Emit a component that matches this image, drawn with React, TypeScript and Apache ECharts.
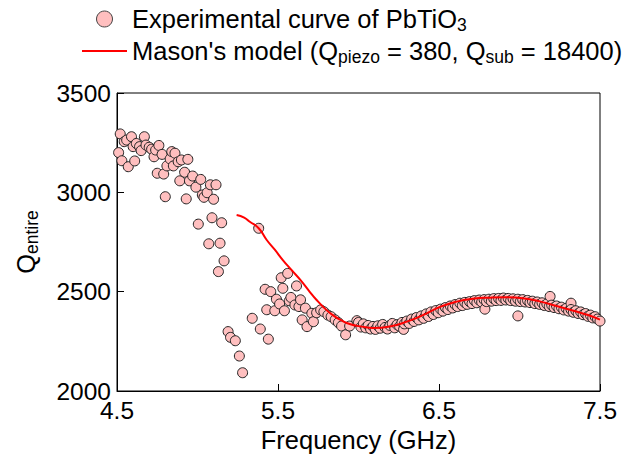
import React, { useEffect, useRef } from "react";
import * as echarts from "echarts";

const expFreq: number[] = [
  4.51, 4.52, 4.53, 4.545, 4.56, 4.57, 4.59, 4.6, 4.61, 4.62, 4.64, 4.65, 4.67, 4.68, 4.7, 4.715,
  4.73, 4.74, 4.75, 4.76, 4.78, 4.79, 4.8, 4.81, 4.83, 4.84, 4.85, 4.86, 4.88, 4.89, 4.9, 4.92,
  4.93, 4.94, 4.95, 4.97, 4.99, 5.005, 5.02, 5.03, 5.04, 5.06, 5.07, 5.08, 5.09, 5.1, 5.115, 5.13,
  5.14, 5.15, 5.165, 5.19, 5.205, 5.235, 5.26, 5.28, 5.34, 5.38, 5.39, 5.42, 5.43, 5.44, 5.455,
  5.48, 5.49, 5.51, 5.52, 5.53, 5.54, 5.56, 5.57, 5.58, 5.605, 5.615, 5.63, 5.64, 5.65, 5.67,
  5.68, 5.71, 5.72, 5.74, 5.765, 5.785, 5.81, 5.83, 5.855, 5.875, 5.895, 5.92, 5.945, 5.99,
  6.0, 6.015, 6.03, 6.045, 6.06, 6.075, 6.09, 6.105, 6.12, 6.135, 6.15, 6.165, 6.18, 6.195,
  6.21, 6.225, 6.24, 6.255, 6.27, 6.28, 6.285, 6.3, 6.315, 6.33, 6.345, 6.36, 6.375, 6.39,
  6.405, 6.42, 6.435, 6.45, 6.465, 6.48, 6.495, 6.51, 6.525, 6.54, 6.555, 6.57, 6.585, 6.6,
  6.615, 6.63, 6.645, 6.66, 6.675, 6.69, 6.705, 6.72, 6.735, 6.75, 6.765, 6.78, 6.785, 6.795,
  6.81, 6.825, 6.84, 6.855, 6.87, 6.885, 6.9, 6.915, 6.93, 6.945, 6.96, 6.975, 6.99, 6.99,
  7.005, 7.02, 7.035, 7.05, 7.065, 7.08, 7.095, 7.11, 7.125, 7.14, 7.155, 7.17, 7.185, 7.19,
  7.2, 7.215, 7.23, 7.245, 7.26, 7.275, 7.29, 7.305, 7.32, 7.32, 7.335, 7.35, 7.365, 7.38,
  7.395, 7.41, 7.425, 7.44, 7.455, 7.47, 7.485, 7.5,
];

const expQ: number[] = [
  3200, 3294, 3159, 3255, 3263, 3129, 3280, 3230, 3158, 3246, 3230, 3210, 3280, 3238, 3227, 3217,
  3179, 3213, 3096, 3236, 3191, 3092, 2978, 3133, 3168, 3205, 3133, 3197, 3154, 3058, 3163, 3101,
  2967, 3166, 3058, 3082, 3026, 2840, 3065, 2987, 2975, 2998, 2741, 3038, 2872, 2965, 3038, 2601,
  2744, 2847, 2655, 2299, 2270, 2253, 2176, 2092, 2366, 2819, 2312, 2512, 2409, 2261, 2500,
  2404, 2462, 2438, 2570, 2517, 2404, 2592, 2454, 2471, 2433, 2529, 2425, 2459, 2358, 2417,
  2324, 2391, 2349, 2394, 2408, 2399, 2382, 2374, 2358, 2344, 2327, 2283, 2327, 2354,
  2345, 2322, 2338, 2318, 2330, 2312, 2325, 2310, 2328, 2316, 2335, 2320, 2312, 2330,
  2340, 2318, 2334, 2326, 2345, 2310, 2338, 2352, 2340, 2362, 2350, 2370, 2358, 2378,
  2366, 2388, 2375, 2398, 2385, 2405, 2394, 2412, 2402, 2420, 2410, 2428, 2418, 2435,
  2425, 2442, 2430, 2446, 2436, 2450, 2440, 2455, 2444, 2458, 2448, 2460, 2412, 2450,
  2462, 2452, 2465, 2455, 2466, 2456, 2468, 2458, 2466, 2455, 2464, 2452, 2378, 2462,
  2450, 2460, 2448, 2456, 2445, 2452, 2440, 2448, 2436, 2444, 2430, 2438, 2425, 2476,
  2432, 2420, 2428, 2414, 2422, 2408, 2416, 2402, 2442, 2410, 2396, 2404, 2390, 2398,
  2384, 2390, 2376, 2382, 2368, 2374, 2362, 2352,
];

const modelFreq: number[] = [
  5.243, 5.29, 5.325, 5.38, 5.43, 5.48, 5.53, 5.585, 5.64, 5.69, 5.74, 5.79, 5.84, 5.895, 5.95,
  6.02, 6.09, 6.195, 6.3, 6.4, 6.51, 6.61, 6.71, 6.82, 6.92, 7.02, 7.13, 7.23, 7.33, 7.43, 7.5,
];
const modelQ: number[] = [
  2886, 2873, 2852, 2819, 2760, 2711, 2659, 2608, 2558, 2507, 2458, 2416, 2382, 2355, 2336,
  2324, 2317, 2325, 2349, 2382, 2425, 2450, 2464, 2470, 2472, 2467, 2450, 2428, 2405, 2381, 2359,
];

const yTicks = { min: 2000, max: 3500, interval: 500 };
const xTicks = { min: 4.5, max: 7.5, interval: 1 };

const expName = "Experimental curve of PbTiO3";
const modelName = "Mason's model (Qpiezo = 380, Qsub = 18400)";

const FONT = "Liberation Sans, Arial, sans-serif";
const FS = 25.5;
const SUB = 17.5;
const LABEL_FS = 24.5;

export default function App() {
  const ref = useRef<HTMLDivElement>(null);
  useEffect(() => {
    if (!ref.current) return;
    const chart = echarts.init(ref.current, null, { renderer: "svg" });
    const richText = {
      n: { fontSize: FS, fontFamily: FONT, color: "#000", lineHeight: 30 },
      s: { fontSize: SUB, fontFamily: FONT, color: "#000", lineHeight: 11, verticalAlign: "bottom" },
    };
    chart.setOption({
      animation: false,
      backgroundColor: "#fff",
      textStyle: { fontFamily: FONT },
      legend: {
        orient: "vertical",
        left: 77,
        top: 1,
        itemWidth: 45,
        itemHeight: 16,
        itemGap: 4,
        data: [
          { name: expName, icon: "circle", itemStyle: { borderColor: "#444", borderWidth: 1 } },
          { name: modelName, icon: "path://M0,0H45V2H0Z" },
        ],
        formatter: (name: string) => {
          if (name === expName) return "{n|Experimental curve of PbTiO}{s|3}";
          return "{n|Mason's model (Q}{s|piezo}{n| = 380, Q}{s|sub}{n| = 18400)}";
        },
        textStyle: { rich: richText },
      },
      grid: {
        left: 117,
        right: 34,
        top: 93,
        bottom: 71,
        show: true,
        borderColor: "#000",
        borderWidth: 1,
        backgroundColor: "transparent",
      },
      xAxis: {
        type: "value",
        min: xTicks.min,
        max: xTicks.max,
        interval: xTicks.interval,
        name: "Frequency (GHz)",
        nameLocation: "middle",
        nameGap: 35,
        nameTextStyle: { fontSize: FS, color: "#000", fontFamily: FONT },
        axisLine: { show: true, lineStyle: { color: "#000", width: 1 } },
        axisTick: { show: true, inside: true, length: 7, lineStyle: { color: "#000" } },
        axisLabel: {
          fontSize: LABEL_FS,
          color: "#000",
          margin: 9,
          lineHeight: 20,
          fontFamily: FONT,
          formatter: (v: number) => v.toFixed(1),
        },
        splitLine: { show: false },
      },
      yAxis: {
        type: "value",
        min: yTicks.min,
        max: yTicks.max,
        interval: yTicks.interval,
        name: "{n|Q}{s|entire}",
        nameLocation: "middle",
        nameGap: 76,
        nameRotate: 90,
        nameTextStyle: { rich: richText },
        axisLine: { show: true, lineStyle: { color: "#000", width: 1 } },
        axisTick: { show: true, inside: true, length: 7, lineStyle: { color: "#000" } },
        axisLabel: {
          fontSize: LABEL_FS,
          color: "#000",
          margin: 6,
          lineHeight: 18,
          fontFamily: FONT,
          formatter: (v: number) => String(v),
        },
        splitLine: { show: false },
      },
      series: [
        {
          name: expName,
          type: "scatter",
          data: expFreq.map((f, i) => [f, expQ[i]]),
          symbol: "circle",
          symbolSize: 10,
          itemStyle: { color: "#FFBFBF", borderColor: "#222", borderWidth: 1, opacity: 1 },
          z: 2,
        },
        {
          name: modelName,
          type: "line",
          data: modelFreq.map((f, i) => [f, modelQ[i]]),
          smooth: true,
          symbol: "none",
          lineStyle: { color: "#FF0000", width: 2 },
          itemStyle: { color: "#FF0000" },
          z: 3,
        },
      ],
    });
    return () => chart.dispose();
  }, []);
  return <div ref={ref} style={{ width: 634, height: 462, position: "absolute", left: 0, top: 0 }} />;
}
